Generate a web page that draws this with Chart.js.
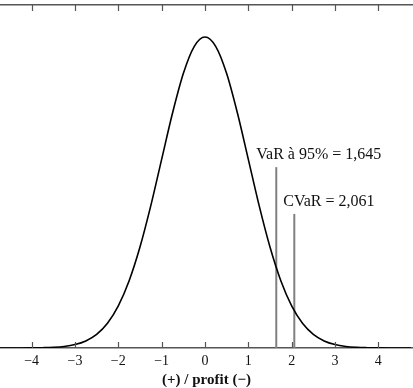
<!DOCTYPE html>
<html><head><meta charset="utf-8">
<script src="https://cdn.jsdelivr.net/npm/chart.js@4"></script>
<style>html,body{margin:0;padding:0;background:#fff}#wrap{width:413px;height:388px}</style>
</head><body><div id="wrap"><canvas id="c"></canvas></div>
<script>
const curveX = [-4.75,-4.5,-4.25,-4,-3.75,-3.5,-3.25,-3,-2.75,-2.5,-2.25,-2,-1.75,-1.5,-1.25,-1,-0.75,-0.5,-0.25,0,0.25,0.5,0.75,1,1.25,1.5,1.75,2,2.25,2.5,2.75,3,3.25,3.5,3.75,4,4.25,4.5,4.75];
const curveY = [0,0,0,0.0001,0.0004,0.0009,0.002,0.0044,0.0091,0.0175,0.0317,0.054,0.0863,0.1295,0.1826,0.242,0.3011,0.3521,0.3867,0.3989,0.3867,0.3521,0.3011,0.242,0.1826,0.1295,0.0863,0.054,0.0317,0.0175,0.0091,0.0044,0.002,0.0009,0.0004,0.0001,0,0,0];
const markerNames = ["VaR à 95% = 1,645", "CVaR = 2,061"];
const markerX = [1.645, 2.061];
const markerTop = [0.232, 0.172];
const labelY = [0.248, 0.188];
const tickValues = [-4,-3,-2,-1,0,1,2,3,4];
const xTitle = "(+) / profit (\u2212)";

const serif = "'Liberation Serif','Times New Roman',serif";
const datasets = [{
  data: curveX.map((x,i)=>({x, y: curveY[i]})),
  showLine: true, borderColor: '#000', borderWidth: 1.6, pointRadius: 0,
  cubicInterpolationMode: 'monotone', fill: false
}];
markerX.forEach((mx,i)=>{
  datasets.push({
    data: [{x: mx, y: 0}, {x: mx, y: markerTop[i]}],
    showLine: true, borderColor: '#808080', borderWidth: 2, pointRadius: 0
  });
});

const innerTicks = {
  id: 'innerTicks',
  afterDraw(chart) {
    const ctx = chart.ctx, xs = chart.scales.x, a = chart.chartArea;
    ctx.save();
    ctx.strokeStyle = '#555'; ctx.lineWidth = 1.2;
    tickValues.forEach(v => {
      const px = Math.round(xs.getPixelForValue(v)) + 0.5;
      ctx.beginPath();
      ctx.moveTo(px, a.bottom); ctx.lineTo(px, a.bottom - 6);
      ctx.moveTo(px, a.top); ctx.lineTo(px, a.top + 6);
      ctx.stroke();
    });
    ctx.fillStyle = '#111';
    ctx.font = "16px " + serif;
    ctx.textBaseline = 'middle';
    const ys = chart.scales.y;
    markerNames.forEach((t,i)=>{
      const px = xs.getPixelForValue(markerX[i]) - 20 + (i===1 ? 9 : 0);
      ctx.fillText(t, px, ys.getPixelForValue(labelY[i]));
    });
    ctx.restore();
  }
};

new Chart(document.getElementById('c'), {
  type: 'scatter',
  data: { datasets },
  options: {
    responsive: true, maintainAspectRatio: false, animation: false,
    layout: { padding: 0 },
    plugins: { legend: { display: false }, tooltip: { enabled: false } },
    scales: {
      x: {
        type: 'linear', position: 'bottom', min: -4.73, max: 4.8,
        afterBuildTicks: s => { s.ticks = tickValues.map(v => ({value: v})); },
        afterFit: s => { s.height = 40; },
        grid: { drawOnChartArea: false, drawTicks: false },
        border: { display: true, color: '#555', width: 1.5 },
        ticks: { padding: 5, color: '#111', font: { family: serif, size: 14 },
          maxRotation: 0, autoSkip: false,
          callback: v => String(v).replace('-', '\u2212') },
        title: { display: true, text: xTitle, color: '#111', padding: {top: 0, bottom: 0},
          font: { family: serif, size: 15, weight: 'bold', lineHeight: 1.0 } }
      },
      x2: {
        type: 'linear', position: 'top', min: -4.73, max: 4.8,
        afterFit: s => { s.height = 5; },
        grid: { drawOnChartArea: false, drawTicks: false },
        border: { display: true, color: '#555', width: 1.5 },
        ticks: { display: false }
      },
      y: { display: false, min: 0, max: 0.44 }
    }
  },
  plugins: [innerTicks]
});
</script>
</body></html>
